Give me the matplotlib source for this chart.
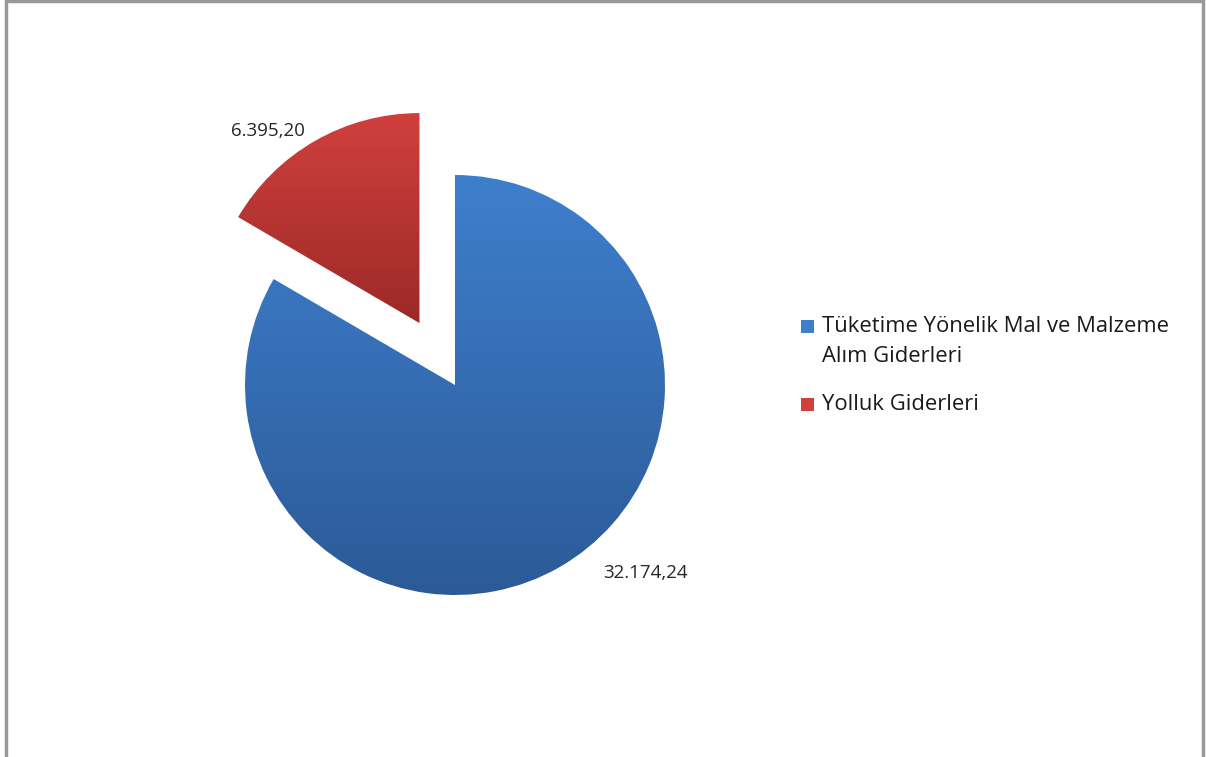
import numpy as np
import matplotlib
matplotlib.use("Agg")
import matplotlib.pyplot as plt
from matplotlib.colors import LinearSegmentedColormap
from matplotlib.patches import Rectangle

categories = ["Tüketime Yönelik Mal ve Malzeme\nAlım Giderleri", "Yolluk Giderleri"]
values = [32174.24, 6395.20]
value_labels = ["32.174,24", "6.395,20"]

W, H = 1206, 757
fig = plt.figure(figsize=(W / 100, H / 100), dpi=100)
ax = fig.add_axes([0, 0, 1, 1])

cx, cy, R = 455, H - 385, 210
top_cols = ["#3E7FCD", "#D0403D"]
bot_cols = ["#2C5A97", "#9C2927"]

wedges, _ = ax.pie(values, startangle=90, counterclock=False, center=(cx, cy),
                   radius=R, explode=[0, 0.34 * R], frame=True,
                   wedgeprops=dict(linewidth=0))
ax.set_xlim(0, W)
ax.set_ylim(0, H)
ax.set_aspect("equal")
ax.axis("off")

inv = ax.transData.inverted()
for w, tc, bc in zip(wedges, top_cols, bot_cols):
    w.set_facecolor("none")
    cmap = LinearSegmentedColormap.from_list("g", [bc, tc])
    grad = np.linspace(0, 1, 256).reshape(-1, 1)
    bb = w.get_window_extent()
    (x0, y0), (x1, y1) = inv.transform([(bb.x0, bb.y0), (bb.x1, bb.y1)])
    im = ax.imshow(grad, cmap=cmap, origin="lower", extent=[x0, x1, y0, y1],
                   aspect="auto", zorder=2)
    im.set_clip_path(w)

ax.set_xlim(0, W)
ax.set_ylim(0, H)

font = "Open Sans"
ax.text(646, H - 573, value_labels[0], ha="center", va="center", fontsize=13.5,
        family=font, color="#262626", zorder=5)
ax.text(268, H - 131, value_labels[1], ha="center", va="center", fontsize=13.5,
        family=font, color="#262626", zorder=5)

# legend
leg_y = [H - 326, H - 404]
line_gap = 30
for col, y, lab in zip(top_cols, leg_y, categories):
    ax.add_patch(Rectangle((801, y - 6.5), 13, 13, facecolor=col, edgecolor="none", zorder=5))
    for i, line in enumerate(lab.split("\n")):
        ax.text(822, y - i * line_gap - 1, line, ha="left", va="center", fontsize=15.8,
                family=font, color="#1a1a1a", zorder=5)

# border
ax.add_patch(Rectangle((6, -10), 1197, H + 9.5, fill=False, edgecolor="#999999",
                       linewidth=2.5, zorder=10))

fig.savefig("out.png", dpi=100)
